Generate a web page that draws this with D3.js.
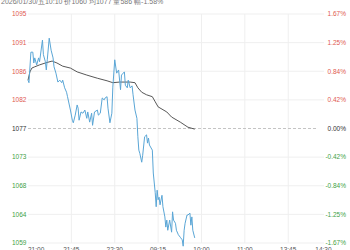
<!DOCTYPE html>
<html>
<head>
<meta charset="utf-8">
<script src="https://cdn.jsdelivr.net/npm/d3@7"></script>
<style>
  body { margin: 0; background: #fff; }
  svg { display: block; font-family: "Liberation Sans", Arial, sans-serif; }
</style>
</head>
<body>
<div id="chart"></div>
<script>
// previous close and price levels (±1.67%)
const preClose = 1077;
const yLevels = [1095, 1090.5, 1086, 1081.5, 1077, 1072.5, 1068, 1063.5, 1059];
const leftLabels = ["1095", "1091", "1086", "1082", "1077", "1073", "1068", "1064", "1059"];
const rightLabels = ["1.67%", "1.25%", "0.84%", "0.42%", "0.00%", "-0.42%", "-0.84%", "-1.25%", "-1.67%"];

// trading minutes since 21:00 and tick labels
const xTickMin = [0, 45, 90, 135, 180, 225, 270, 315];
const xTickLabels = ["21:00", "21:45", "22:30", "09:15", "10:00", "11:00", "13:45", "14:30"];

// price line (minute, price)
const priceMin = [0, 1, 3, 5, 6, 7, 9, 11, 12, 15, 16, 18, 19, 20, 22, 24, 26, 27, 29, 31, 33, 35, 36, 38, 40, 41, 44, 46, 47, 49,
  51, 52, 53, 55, 57, 59, 61, 62, 64, 66, 67, 69, 72, 73, 75, 77, 79, 80, 82, 83, 85, 87, 88, 90, 92, 94, 96, 97, 100, 101,
  103, 104, 106, 108, 109, 111, 113, 114, 115, 116, 118, 119, 121, 123, 124, 125, 126, 129, 130, 132, 133, 134, 135, 136, 137, 139, 140, 142, 143, 144,
  145, 147, 149, 150, 151, 153, 154, 156, 158, 160, 161, 162, 163, 165, 166, 168, 169, 170, 171, 173];
const priceVal = [1084.6, 1084.2, 1089.0, 1089.0, 1087.3, 1088.1, 1087.0, 1088.1, 1087.5, 1090.9, 1088.6, 1087.5, 1086.2, 1087.8, 1091.2, 1089.3, 1088.1, 1086.7, 1085.7, 1084.3,
  1084.6, 1084.2, 1084.6, 1083.4, 1082.7, 1082.0, 1079.9, 1078.3, 1077.9, 1079.1,
  1080.7, 1080.2, 1078.3, 1079.6, 1079.4, 1079.9, 1078.6, 1079.6, 1078.0, 1079.4, 1077.5, 1079.6, 1079.9, 1079.1, 1079.4, 1081.8, 1081.5, 1081.8, 1082.0, 1080.2,
  1077.9, 1079.4, 1083.5, 1087.8, 1085.7, 1086.2, 1083.1, 1085.4, 1085.9, 1083.8,
  1083.4, 1084.6, 1083.4, 1083.7, 1082.3, 1079.9, 1078.6, 1075.7, 1073.6, 1073.1, 1071.7, 1072.8, 1075.7, 1076.0, 1074.7, 1075.5, 1074.4, 1073.6, 1070.0, 1066.9,
  1064.7, 1067.3, 1065.8, 1066.2, 1065.0, 1066.5, 1064.7, 1063.1, 1061.5, 1062.6,
  1061.0, 1062.6, 1060.7, 1063.9, 1062.6, 1062.1, 1061.0, 1060.3, 1059.9, 1059.5, 1058.5, 1061.0, 1062.1, 1063.4, 1063.4, 1063.7, 1061.8, 1063.1, 1061.0, 1059.8];

// average price line
const avgMin = [0, 2, 4, 7, 12, 18, 25, 30, 36, 44, 51, 61, 72, 82, 88, 95, 106, 111, 114, 118, 123, 129, 132, 135, 144, 149, 158, 166, 173];
const avgVal = [1084.6, 1085.9, 1086.5, 1086.7, 1087.0, 1087.3, 1087.6, 1087.3, 1086.8, 1086.5, 1085.9, 1085.4, 1084.9, 1084.5, 1084.2, 1084.3, 1084.3, 1084.2, 1083.4, 1082.7,
  1082.3, 1082.0, 1081.2, 1080.4, 1079.6, 1078.8, 1078.0, 1077.2, 1076.9];

const header = "2026/01/30/五10:10  价1060  均1077  量586  幅-1.58%";

const width = 350, height = 250;
const margin = {top: 14, right: 26, bottom: 7, left: 28};
const red = "#e05a50", green = "#3f9f46";

const svg = d3.select("#chart").append("svg").attr("width", width).attr("height", height);

const x = d3.scaleLinear().domain([0, 315]).range([margin.left, 331.6]);
const y = d3.scaleLinear().domain([1059, 1095]).range([height - margin.bottom, margin.top]);
const plotRight = width - margin.right;

function colorFor(v) {
  if (v > preClose) return red;
  if (v < preClose) return green;
  return "#333";
}

// grid
svg.append("g")
  .selectAll("line")
  .data(yLevels.filter(v => v !== preClose))
  .join("line")
    .attr("x1", margin.left).attr("x2", plotRight)
    .attr("y1", d => y(d)).attr("y2", d => y(d))
    .attr("stroke", "#efefef");

svg.append("g")
  .selectAll("line")
  .data(xTickMin.slice(1, 7))
  .join("line")
    .attr("x1", d => x(d)).attr("x2", d => x(d))
    .attr("y1", y(1095)).attr("y2", y(1059))
    .attr("stroke", "#efefef");

svg.append("line")
  .attr("x1", margin.left).attr("x2", plotRight - 6)
  .attr("y1", y(preClose)).attr("y2", y(preClose))
  .attr("stroke", "#c4c4c4")
  .attr("stroke-dasharray", "3,2");

// y labels
svg.append("g")
  .attr("font-size", 6.5)
  .selectAll("text")
  .data(yLevels)
  .join("text")
    .attr("x", 12)
    .attr("y", d => y(d))
    .attr("dy", "0.35em")
    .attr("fill", d => colorFor(d))
    .text((d, i) => leftLabels[i]);

svg.append("g")
  .attr("font-size", 6.5)
  .attr("text-anchor", "end")
  .selectAll("text")
  .data(yLevels)
  .join("text")
    .attr("x", 346)
    .attr("y", d => y(d))
    .attr("dy", "0.35em")
    .attr("fill", d => colorFor(d))
    .text((d, i) => rightLabels[i]);

// x labels
svg.append("g")
  .attr("font-size", 6.5)
  .attr("fill", "#555")
  .selectAll("text")
  .data(xTickMin)
  .join("text")
    .attr("x", d => x(d))
    .attr("y", 252)
    .attr("text-anchor", (d, i) => i === 0 ? "start" : (i === xTickMin.length - 1 ? "end" : "middle"))
    .text((d, i) => xTickLabels[i]);

// lines
const line = d3.line().x(d => x(d[0])).y(d => y(d[1]));

svg.append("path")
  .datum(avgMin.map((m, i) => [m, avgVal[i]]))
  .attr("fill", "none")
  .attr("stroke", "#444")
  .attr("stroke-width", 0.9)
  .attr("d", line);

svg.append("path")
  .datum(priceMin.map((m, i) => [m, priceVal[i]]))
  .attr("fill", "none")
  .attr("stroke", "#5aa6d6")
  .attr("stroke-width", 1)
  .attr("d", line);

// header (partly cut off at top)
svg.append("text")
  .attr("x", 1)
  .attr("y", 3.5)
  .attr("font-size", 7)
  .attr("fill", "#777")
  .text(header);
</script>
</body>
</html>
